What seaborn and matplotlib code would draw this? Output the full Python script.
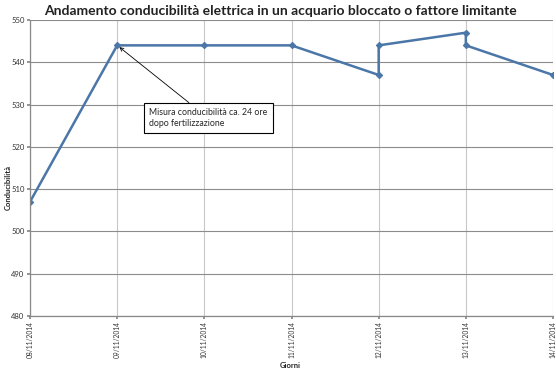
import matplotlib
matplotlib.use("Agg")
import matplotlib.pyplot as plt
import seaborn as sns
import pandas as pd

days = ["08/11/2014", "09/11/2014", "10/11/2014", "11/11/2014",
        "12/11/2014", "13/11/2014", "14/11/2014"]
point_day = [0, 1, 2, 3, 4, 4, 5, 5, 6]
conductivity = [507, 544, 544, 544, 537, 544, 547, 544, 537]
yticks = [480, 490, 500, 510, 520, 530, 540, 550]

sns.set_theme(style="white")
plt.rcParams['font.family'] = ['Lato', 'DejaVu Sans']

df = pd.DataFrame({"Giorni": point_day, "Conducibilità": conductivity})

fig = plt.figure(figsize=(5.56, 3.71), dpi=100)
ax = fig.add_axes([30/556, 1 - 316/371, (553-30)/556, (316-20)/371])

for x in range(len(days)):
    ax.axvline(x, color="#c8c8c8", lw=0.8, zorder=0)
for y in yticks:
    ax.axhline(y, color="#8c8c8c", lw=0.8, zorder=0)

sns.lineplot(data=df, x="Giorni", y="Conducibilità", sort=False, ax=ax,
             color="#4a76a8", lw=1.8, marker="D", markersize=3.2,
             markeredgecolor="#4a76a8", estimator=None)

ax.set_xlim(0, 6)
ax.set_ylim(480, 550)
ax.set_yticks(yticks)
ax.set_yticklabels([str(v) for v in yticks], fontsize=5.5, color="#333333")
ax.set_xticks(range(len(days)))
ax.set_xticklabels(days, rotation=90, fontsize=4.8, color="#333333")
ax.tick_params(axis="both", length=2, pad=2, color="#888888")
ax.tick_params(axis="x", bottom=True)
ax.tick_params(axis="y", left=True)

for s in ["left", "bottom"]:
    ax.spines[s].set_color("#888888")
    ax.spines[s].set_linewidth(0.9)
for s in ["top", "right"]:
    ax.spines[s].set_visible(False)

ax.set_xlabel("")
ax.set_ylabel("")
fig.text(290/556, 1 - 365/371, "Giorni", ha="center", va="center",
         fontsize=5.5, fontweight="bold", color="#222222")
fig.text(8/556, 1 - 187/371, "Conducibilità", ha="center", va="center",
         rotation=90, fontsize=5.5, fontweight="bold", color="#222222")

fig.text(0.5 + 2/556, 1 - 11/371, "Andamento conducibilità elettrica in un acquario bloccato o fattore limitante",
         ha="center", va="center", fontsize=10, fontweight="bold", color="#222222")

ax.annotate("Misura conducibilità ca. 24 ore\ndopo fertilizzazione",
            xy=(1, 544), xytext=(149/556, 1 - 118/371), textcoords="figure fraction",
            fontsize=6.3, va="center", ha="left",
            bbox=dict(boxstyle="square,pad=0.6", fc="white", ec="black", lw=0.8),
            arrowprops=dict(arrowstyle="->", color="black", lw=0.6,
                            shrinkA=0, shrinkB=2))

fig.savefig("out.png", dpi=100)
